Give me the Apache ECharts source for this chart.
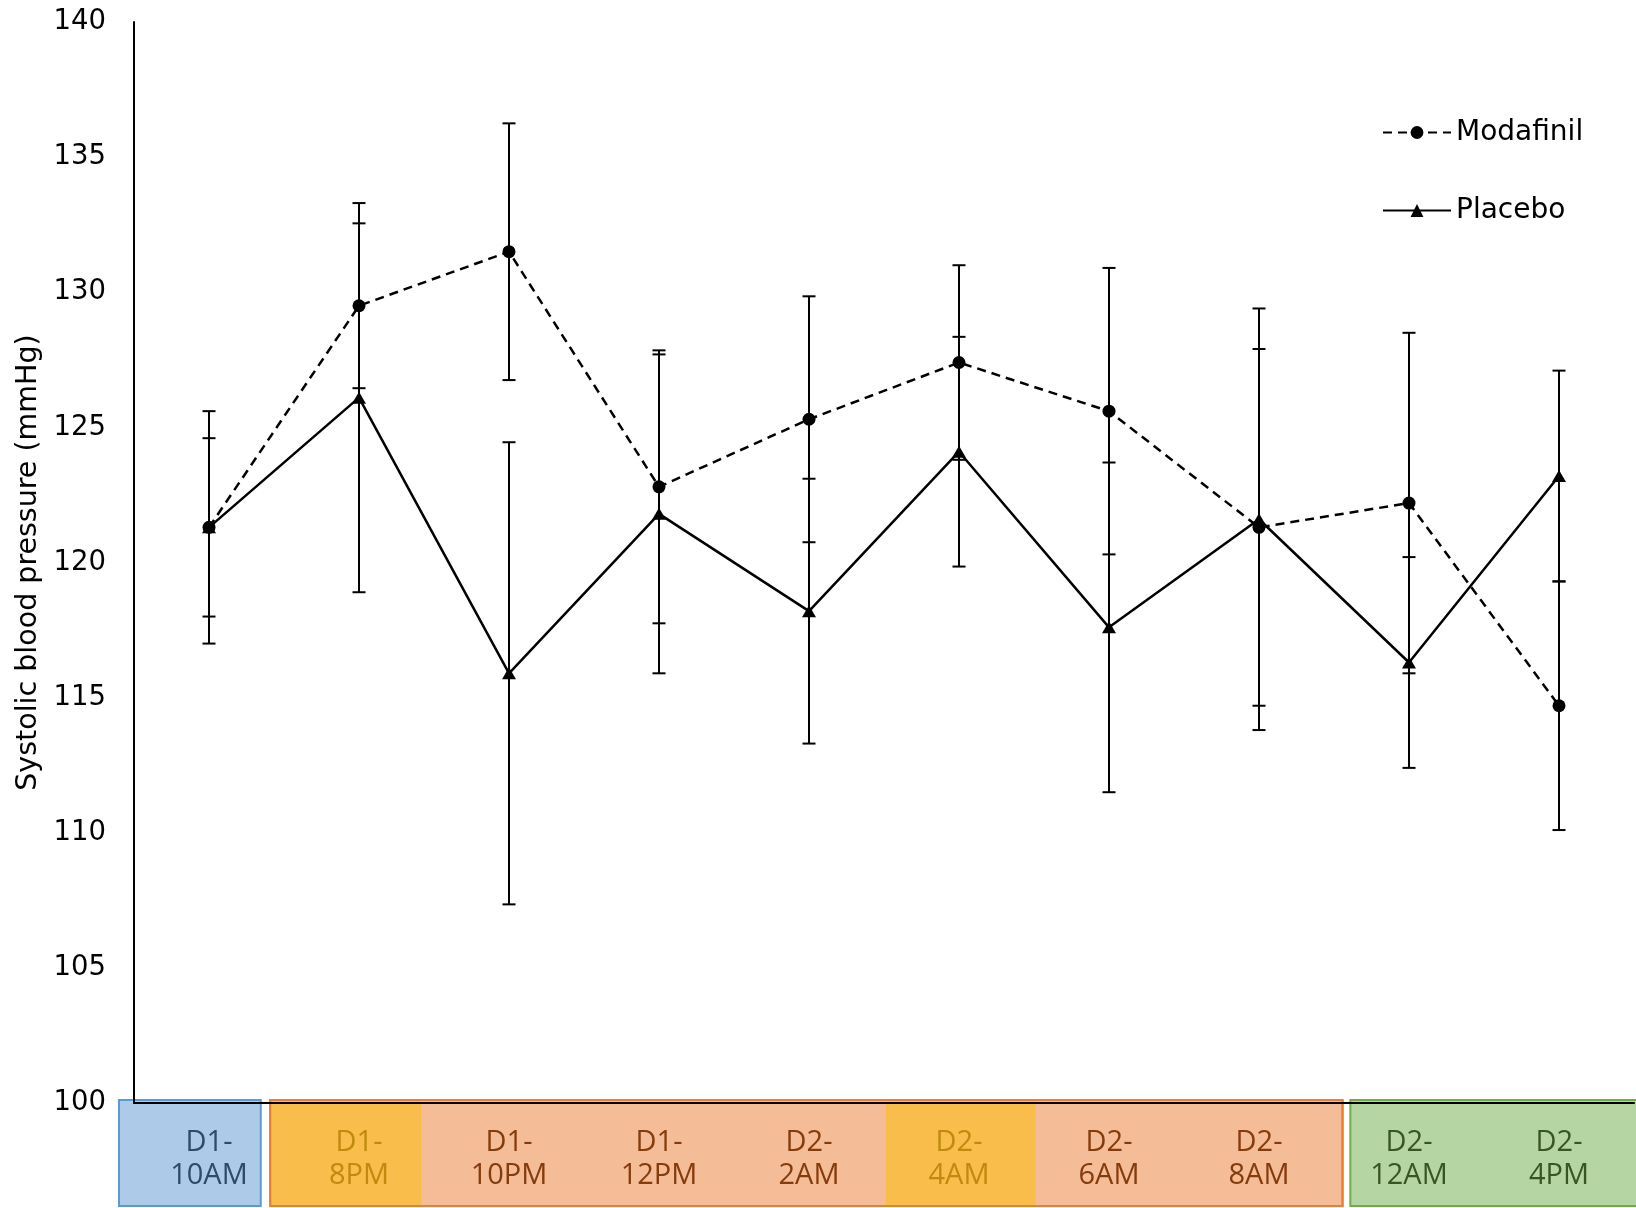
<!DOCTYPE html>
<html>
<head>
<meta charset="utf-8">
<title>Systolic blood pressure</title>
<script src="https://cdn.jsdelivr.net/npm/echarts@6/dist/echarts.min.js"></script>
<style>
  html, body { margin: 0; padding: 0; background: #fff; }
  #chart { width: 1636px; height: 1208px; }
</style>
</head>
<body>
<div id="chart"></div>
<script>
// time points
var categories = ["D1-\n10AM", "D1-\n8PM", "D1-\n10PM", "D1-\n12PM", "D2-\n2AM",
  "D2-\n4AM", "D2-\n6AM", "D2-\n8AM", "D2-\n12AM", "D2-\n4PM"];
// phase of each time point (sets the label colour)
var phases = ["base", "dose", "night", "night", "night", "dose", "night", "night", "recovery", "recovery"];

// means and error (mmHg)
var modafinilMean = [121.3, 129.5, 131.5, 122.8, 125.3, 127.4, 125.6, 121.3, 122.2, 114.7];
var modafinilErr = [4.3, 3.05, 4.75, 5.05, 4.55, 3.6, 5.3, 6.6, 6.3, 4.6];
var placeboMean = [121.3, 126.1, 115.9, 121.8, 118.2, 124.1, 117.6, 121.6, 116.3, 123.2];
var placeboErr = [3.3, 7.2, 8.55, 5.9, 4.9, 4.25, 6.1, 7.8, 3.9, 3.9];

// y axis
var yMin = 100, yMax = 140, yStep = 5;

var phaseText = {
  base: "#2E4B68",
  dose: "#BF8A0E",
  night: "#843C0C",
  recovery: "#375623"
};

// boxes under the axis, edges in band units from the axis start
var boxes = [
  { from: -0.1, to: 0.845, fill: "#ADCBE9", stroke: "#5B9BD5" },
  { from: 0.908, to: 8.057, fill: "#F5BC98", stroke: "#ED7D31" },
  { from: 0.915, to: 1.915, fill: "#F8BD4A", stroke: null },
  { from: 5.013, to: 6.01, fill: "#F8BD4A", stroke: null },
  { from: 0.908, to: 8.057, fill: null, stroke: "#ED7D31" },
  { from: 8.109, to: 10.02, fill: "#B5D5A3", stroke: "#70AD47" }
];

function errData(mean, err) {
  return mean.map(function (m, i) {
    return [i, m - err[i], m + err[i]];
  });
}

function renderErrorBar(params, api) {
  var x = api.value(0);
  var lo = api.coord([x, api.value(1)]);
  var hi = api.coord([x, api.value(2)]);
  var half = 6.5;
  var style = { stroke: "#000", lineWidth: 2 };
  return {
    type: "group",
    children: [
      { type: "line", shape: { x1: lo[0], y1: lo[1], x2: hi[0], y2: hi[1] }, style: style },
      { type: "line", shape: { x1: hi[0] - half, y1: hi[1], x2: hi[0] + half, y2: hi[1] }, style: style },
      { type: "line", shape: { x1: lo[0] - half, y1: lo[1], x2: lo[0] + half, y2: lo[1] }, style: style }
    ]
  };
}

function renderBox(params, api) {
  var b = boxes[params.dataIndex];
  var bw = api.size([1, 0])[0];
  var start = api.coord([0, 0])[0] - bw / 2;
  var top = api.coord([0, 1])[1];
  var bottom = api.coord([0, 0])[1];
  var x1 = start + b.from * bw;
  var x2 = start + b.to * bw;
  return {
    type: "rect",
    shape: { x: x1, y: top, width: x2 - x1, height: bottom - top },
    style: {
      fill: b.fill || "none",
      stroke: b.stroke || "none",
      lineWidth: b.stroke ? 2 : 0
    }
  };
}

function renderLabel(params, api) {
  var i = api.value(0);
  var p = api.coord([i, 0.5]);
  return {
    type: "text",
    x: p[0],
    y: p[1] + 6,
    style: {
      text: categories[i],
      fill: phaseText[phases[i]],
      font: "29px 'Open Sans'",
      lineHeight: 33,
      align: "center",
      verticalAlign: "middle"
    }
  };
}

var chart = echarts.init(document.getElementById("chart"));

var option = {
  animation: false,
  backgroundColor: "#fff",
  grid: [
    { left: 134, right: 2, top: 22, bottom: 105 },
    { left: 134, right: 2, top: 1100, height: 106 }
  ],
  legend: {
    data: ["Modafinil", "Placebo"],
    orient: "vertical",
    left: 1377,
    top: 112,
    itemWidth: 68,
    itemHeight: 16,
    itemGap: 47,
    textStyle: { fontFamily: "DejaVu Sans", fontSize: 28, color: "#000", lineHeight: 31 }
  },
  xAxis: [
    {
      type: "category",
      gridIndex: 0,
      data: categories,
      z: 3,
      axisLine: { lineStyle: { color: "#000", width: 2 } },
      axisTick: { show: false },
      axisLabel: { show: false },
      splitLine: { show: false }
    },
    {
      type: "category",
      gridIndex: 1,
      data: categories,
      show: false
    }
  ],
  yAxis: [
    {
      type: "value",
      gridIndex: 0,
      min: yMin,
      max: yMax,
      interval: yStep,
      name: "Systolic blood pressure (mmHg)",
      nameLocation: "middle",
      nameGap: 86,
      nameTextStyle: { fontFamily: "DejaVu Sans", fontSize: 28.5, color: "#000" },
      axisLine: { show: true, lineStyle: { color: "#000", width: 2 } },
      axisTick: { show: false },
      splitLine: { show: false },
      axisLabel: { fontFamily: "DejaVu Sans", fontSize: 27.5, color: "#000", margin: 28 }
    },
    {
      type: "value",
      gridIndex: 1,
      min: 0,
      max: 1,
      show: false
    }
  ],
  series: [
    {
      name: "Modafinil SD",
      type: "custom",
      xAxisIndex: 0,
      yAxisIndex: 0,
      z: 1,
      renderItem: renderErrorBar,
      data: errData(modafinilMean, modafinilErr)
    },
    {
      name: "Placebo SD",
      type: "custom",
      xAxisIndex: 0,
      yAxisIndex: 0,
      z: 1,
      renderItem: renderErrorBar,
      data: errData(placeboMean, placeboErr)
    },
    {
      name: "Modafinil",
      type: "line",
      xAxisIndex: 0,
      yAxisIndex: 0,
      data: modafinilMean,
      symbol: "circle",
      symbolSize: 13,
      itemStyle: { color: "#000" },
      lineStyle: { color: "#000", width: 2.5, type: [9, 6] },
      z: 2
    },
    {
      name: "Placebo",
      type: "line",
      xAxisIndex: 0,
      yAxisIndex: 0,
      data: placeboMean,
      symbol: "triangle",
      symbolSize: [14, 12],
      itemStyle: { color: "#000" },
      lineStyle: { color: "#000", width: 2.5 },
      z: 2
    },
    {
      name: "phases",
      type: "custom",
      xAxisIndex: 1,
      yAxisIndex: 1,
      z: 0,
      clip: false,
      renderItem: renderBox,
      data: boxes.map(function (b, i) { return [i]; })
    },
    {
      name: "labels",
      type: "custom",
      xAxisIndex: 1,
      yAxisIndex: 1,
      z: 1,
      renderItem: renderLabel,
      data: categories.map(function (c, i) { return [i]; })
    }
  ]
};

chart.setOption(option);
window.addEventListener("resize", function () {
  chart.resize();
});
</script>
</body>
</html>
